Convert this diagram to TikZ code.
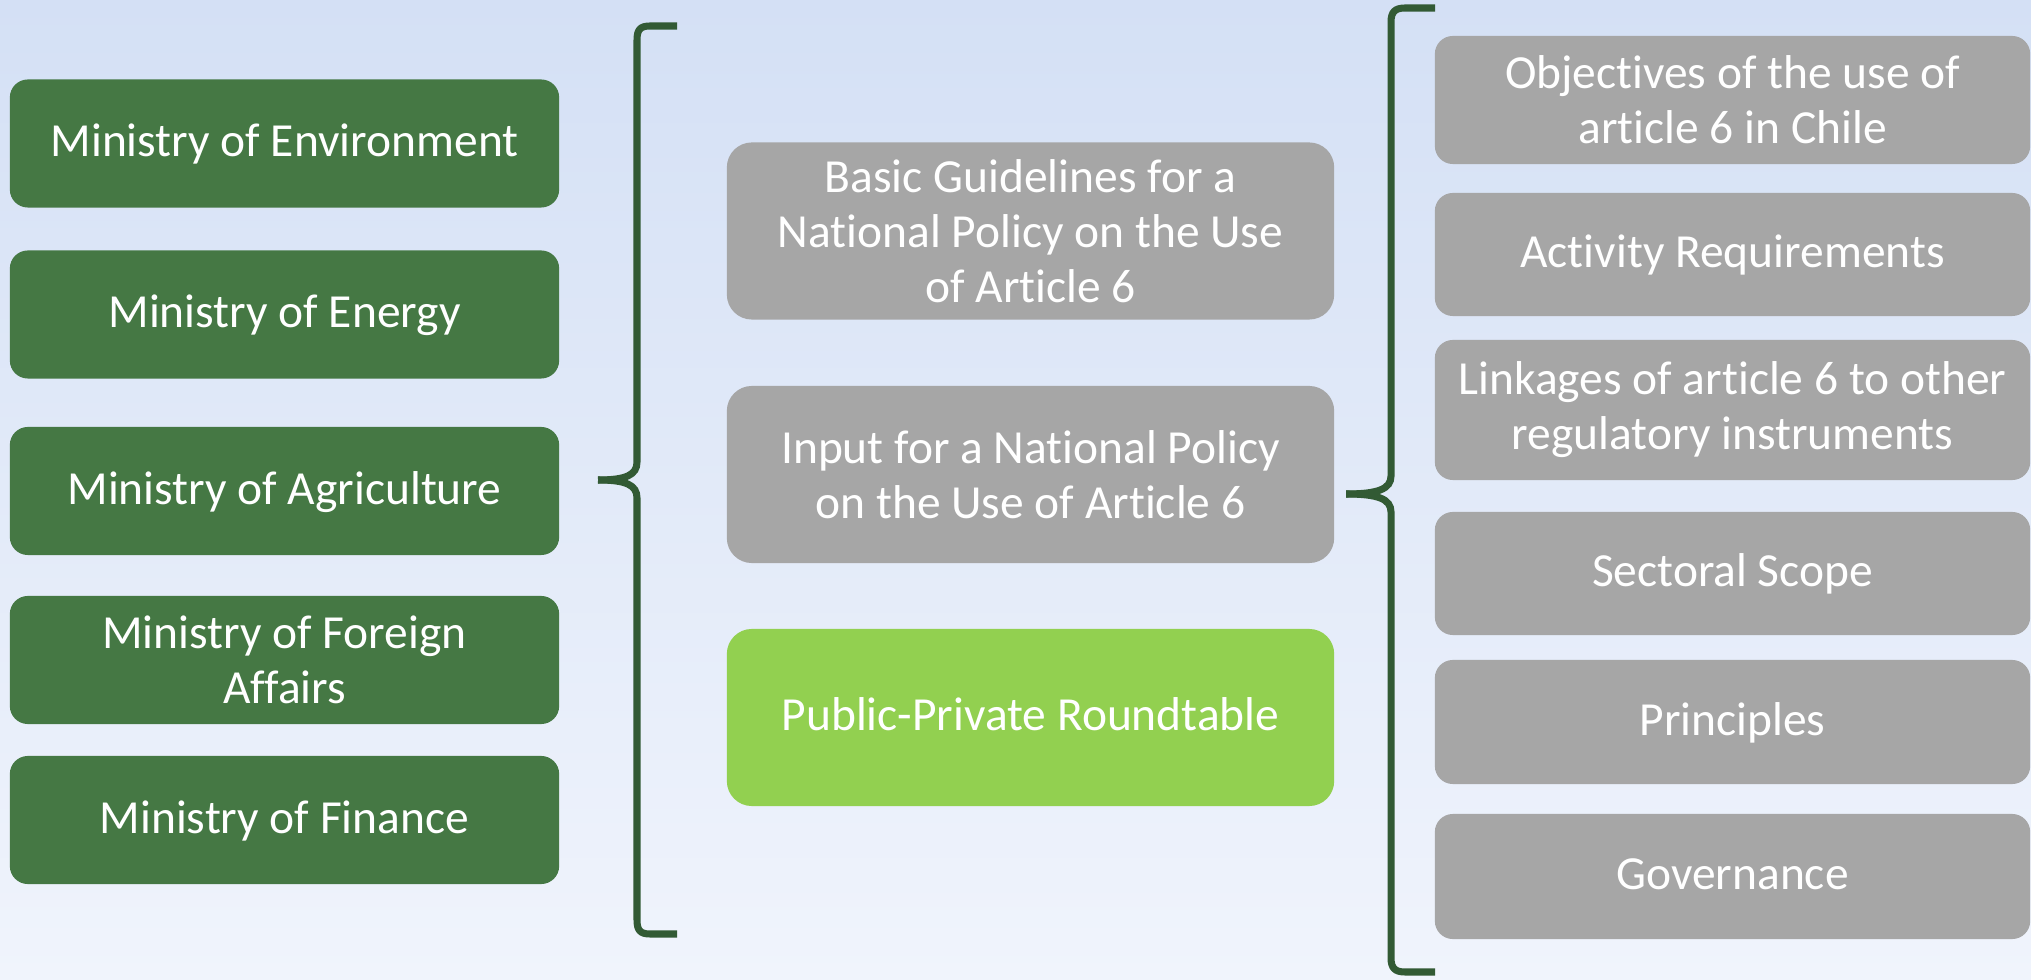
\documentclass[tikz,border=0pt]{standalone}
\usepackage{fontspec}
\setmainfont{Carlito}[RawFeature={-liga;-clig;-calt;-dlig}]
\usepackage{xcolor}

\definecolor{bgtop}{RGB}{212,224,245}
\definecolor{bgbot}{RGB}{240,244,252}
\definecolor{mingreen}{RGB}{69,120,68}
\definecolor{bracegreen}{RGB}{50,90,52}
\definecolor{boxgray}{RGB}{166,166,166}
\definecolor{tablegreen}{RGB}{146,208,80}

\begin{document}
\begin{tikzpicture}[x=0.01cm, y=-0.01cm,
  box/.style={inner sep=0pt, align=center, text=white, font=\fontsize{13.5}{15.6}\selectfont},
  single/.style={text height=1.0em, text depth=0.26em}, % one-line labels
  ministry/.style={box, fill=mingreen, rounded corners=0.18cm, minimum width=5.49cm, minimum height=1.28cm},
  policy/.style={box, fill=boxgray, rounded corners=0.25cm, minimum width=6.07cm, minimum height=1.77cm},
  topic/.style={box, fill=boxgray, rounded corners=0.18cm, minimum width=5.95cm, minimum height=#1},
  topic/.default=1.24cm,
  brace/.style={draw=bracegreen, line width=2pt}]

\useasboundingbox (0,0) rectangle (2031,980);
\shade[top color=bgtop, bottom color=bgbot] (0,0) rectangle (2031,980); %background

%%% ministries
\node[ministry, single] (env) at (284.5,143.5) {Ministry of Environment};
\node[ministry, single] (energy) at (284.5,314.5) {Ministry of Energy};
\node[ministry, single] (agri) at (284.5,491) {Ministry of Agriculture};
\node[ministry] (foreign) at (284.5,660) {Ministry of Foreign\\Affairs};
\node[ministry, single] (finance) at (284.5,820) {Ministry of Finance};

%%% left brace
\draw[brace] (677,26) -- (650,26) .. controls (640,26) and (637,30) .. (637,40) -- (637,462) .. controls (637,475) and (626,480) .. (598,480);
\draw[brace] (598,480) .. controls (626,480) and (637,485) .. (637,498) -- (637,920) .. controls (637,930) and (640,934) .. (650,934) -- (677,934);

%%% middle column
\node[policy] (guide) at (1030.5,231) {Basic Guidelines for a\\National Policy on the Use\\of Article 6};
\node[policy] (input) at (1030.5,474.5) {Input for a National Policy\\on the Use of Article 6};
\node[policy, single, fill=tablegreen] (table) at (1030.5,717.5) {Public-Private Roundtable};

%%% right brace
\draw[brace] (1435,8) -- (1405,8) .. controls (1395,8) and (1391,12) .. (1391,22) -- (1391,476) .. controls (1391,489) and (1378,494) .. (1346,494);
\draw[brace] (1346,494) .. controls (1378,494) and (1391,499) .. (1391,512) -- (1391,958) .. controls (1391,968) and (1395,972) .. (1405,972) -- (1435,972);

%%% topics
\node[topic=1.28cm] (obj) at (1732.5,100) {Objectives of the use of\\article 6 in Chile};
\node[topic=1.23cm, single] (act) at (1732.5,254.5) {Activity Requirements};
\node[topic=1.40cm] (link) at (1732.5,410) {Linkages of article 6 to other\\regulatory instruments};
\node[topic=1.23cm, single] (sect) at (1732.5,573.5) {Sectoral Scope};
\node[topic=1.24cm, single] (princ) at (1732.5,722) {Principles};
\node[topic=1.25cm, single] (gov) at (1732.5,876.5) {Governance};
\end{tikzpicture}
\end{document}
